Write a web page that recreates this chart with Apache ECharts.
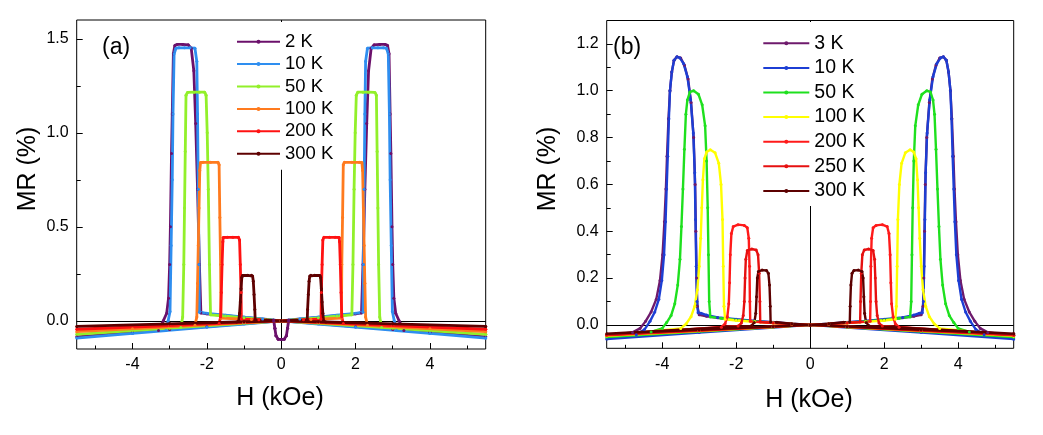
<!DOCTYPE html>
<html><head><meta charset="utf-8">
<script src="https://cdn.jsdelivr.net/npm/echarts@6/dist/echarts.min.js"></script>
<style>html,body{margin:0;padding:0;background:#fff}#c{width:1043px;height:435px}</style>
</head><body><div id="c"></div>
<script>
const FONT = '"Liberation Sans", Arial, sans-serif';
// tick labels
const xTicks = [-4, -2, 0, 2, 4];
const xMinor = [-5, -3, -1, 1, 3, 5];
const aYTicks = [0, 0.5, 1.0, 1.5];
const aYMinor = [0.25, 0.75, 1.25];
const bYTicks = [0, 0.2, 0.4, 0.6, 0.8, 1.0, 1.2];
const bYMinor = [0.1, 0.3, 0.5, 0.7, 0.9, 1.1];

// Panel (a): [H (kOe), MR (%)]
const aNames = ['2 K', '10 K', '50 K', '100 K', '200 K', '300 K'];
const a2K = [
[5.5,-0.085],[4,-0.062],[3,-0.046],[2,-0.031],[1,-0.015],[0.2,-0.003],
[0.17,-0.04],[0.14,-0.08],[0.08,-0.098],[0,-0.1],[-0.08,-0.098],[-0.14,-0.08],[-0.17,-0.04],[-0.2,0.004],
[-1,0.018],[-2,0.037],[-2.16,0.042],
[-2.2,0.3],[-2.25,0.7],[-2.3,1.05],[-2.35,1.33],[-2.42,1.45],[-2.5,1.468],
[-2.65,1.47],[-2.8,1.47],[-2.86,1.465],
[-2.9,1.42],[-2.93,1.1],[-2.95,0.89],[-2.98,0.5],[-3.0,0.3],[-3.03,0.12],[-3.08,0.04],[-3.17,0],[-3.3,-0.051],
[-4,-0.062],[-5.5,-0.085],
[-4,-0.062],[-3,-0.046],[-2,-0.031],[-1,-0.015],[-0.2,-0.003],
[-0.17,-0.04],[-0.14,-0.08],[-0.08,-0.098],[0,-0.1],[0.08,-0.098],[0.14,-0.08],[0.17,-0.04],[0.2,0.004],
[1,0.018],[2,0.037],[2.16,0.042],
[2.2,0.3],[2.25,0.7],[2.3,1.05],[2.35,1.33],[2.42,1.45],[2.5,1.468],
[2.65,1.47],[2.8,1.47],[2.86,1.465],
[2.9,1.42],[2.93,1.1],[2.95,0.89],[2.98,0.5],[3.0,0.3],[3.03,0.12],[3.08,0.04],[3.17,0],[3.3,-0.051],
[4,-0.062],[5.5,-0.085]
];
const a10K = [
[5.5,-0.092],[4,-0.067],[2,-0.034],[1,-0.017],[0,0],
[-0.5,0.01],[-1,0.02],[-1.5,0.03],[-2,0.04],[-2.2,0.046],
[-2.21,0.3],[-2.23,0.7],[-2.25,1.1],[-2.27,1.38],[-2.32,1.45],
[-2.45,1.452],[-2.6,1.452],[-2.75,1.452],[-2.83,1.45],
[-2.88,1.42],[-2.91,1.1],[-2.93,0.75],[-2.96,0.4],[-2.99,0.05],[-3.04,0],[-3.1,-0.052],
[-4,-0.067],[-5.5,-0.092],
[-4,-0.067],[-2,-0.034],[-1,-0.017],[0,0],
[0.5,0.01],[1,0.02],[1.5,0.03],[2,0.04],[2.2,0.046],
[2.21,0.3],[2.23,0.7],[2.25,1.1],[2.27,1.38],[2.32,1.45],
[2.45,1.452],[2.6,1.452],[2.75,1.452],[2.83,1.45],
[2.88,1.42],[2.91,1.1],[2.93,0.75],[2.96,0.4],[2.99,0.05],[3.04,0],[3.1,-0.052],
[4,-0.067],[5.5,-0.092]
];
const a50K = [
[5.5,-0.072],[3,-0.039],[1,-0.013],[0,0],
[-1,0.016],[-1.5,0.025],[-1.9,0.032],
[-1.93,0.3],[-1.96,0.7],[-1.99,1.0],[-2.02,1.2],[-2.06,1.216],
[-2.2,1.216],[-2.35,1.216],[-2.52,1.215],
[-2.56,1.2],[-2.58,0.9],[-2.6,0.6],[-2.62,0.3],[-2.65,0.02],[-2.7,-0.035],
[-4,-0.052],[-5.5,-0.072],
[-3,-0.039],[-1,-0.013],[0,0],
[1,0.016],[1.5,0.025],[1.9,0.032],
[1.93,0.3],[1.96,0.7],[1.99,1.0],[2.02,1.2],[2.06,1.216],
[2.2,1.216],[2.35,1.216],[2.52,1.215],
[2.56,1.2],[2.58,0.9],[2.6,0.6],[2.62,0.3],[2.65,0.02],[2.7,-0.035],
[4,-0.052],[5.5,-0.072]
];
const a100K = [
[5.5,-0.058],[3,-0.032],[1,-0.011],[0,0],
[-0.8,0.007],[-1.62,0.014],
[-1.63,0.3],[-1.65,0.55],[-1.67,0.83],[-1.7,0.843],
[-1.9,0.843],[-2.1,0.843],[-2.17,0.842],
[-2.19,0.8],[-2.21,0.6],[-2.23,0.4],[-2.25,0.2],[-2.27,0.02],[-2.32,-0.024],
[-4,-0.042],[-5.5,-0.058],
[-3,-0.032],[-1,-0.011],[0,0],
[0.8,0.007],[1.62,0.014],
[1.63,0.3],[1.65,0.55],[1.67,0.83],[1.7,0.843],
[1.9,0.843],[2.1,0.843],[2.17,0.842],
[2.19,0.8],[2.21,0.6],[2.23,0.4],[2.25,0.2],[2.27,0.02],[2.32,-0.024],
[4,-0.042],[5.5,-0.058]
];
const a200K = [
[5.5,-0.045],[3,-0.025],[1,-0.008],[0,0],
[-0.6,0.005],[-1.07,0.009],
[-1.08,0.15],[-1.1,0.3],[-1.12,0.43],[-1.15,0.444],
[-1.3,0.444],[-1.45,0.444],[-1.56,0.443],
[-1.57,0.42],[-1.59,0.3],[-1.61,0.15],[-1.63,0.02],[-1.67,-0.014],
[-3,-0.025],[-5.5,-0.045],
[-3,-0.025],[-1,-0.008],[0,0],
[0.6,0.005],[1.07,0.009],
[1.08,0.15],[1.1,0.3],[1.12,0.43],[1.15,0.444],
[1.3,0.444],[1.45,0.444],[1.56,0.443],
[1.57,0.42],[1.59,0.3],[1.61,0.15],[1.63,0.02],[1.67,-0.014],
[3,-0.025],[5.5,-0.045]
];
const a300K = [
[5.5,-0.03],[3,-0.016],[1,-0.005],[0,0],
[-0.4,0.003],[-0.7,0.005],
[-0.71,0.06],[-0.73,0.14],[-0.75,0.21],[-0.77,0.238],[-0.8,0.242],
[-0.9,0.242],[-1.04,0.241],
[-1.06,0.23],[-1.08,0.17],[-1.1,0.1],[-1.12,0.04],[-1.14,0.0],[-1.2,-0.007],
[-3,-0.016],[-5.5,-0.03],
[-3,-0.016],[-1,-0.005],[0,0],
[0.4,0.003],[0.7,0.005],
[0.71,0.06],[0.73,0.14],[0.75,0.21],[0.77,0.238],[0.8,0.242],
[0.9,0.242],[1.04,0.241],
[1.06,0.23],[1.08,0.17],[1.1,0.1],[1.12,0.04],[1.14,0.0],[1.2,-0.007],
[3,-0.016],[5.5,-0.03]
];

// Panel (b): [H (kOe), MR (%)]
const bNames = ['3 K', '10 K', '50 K', '100 K', '200 K', '250 K', '300 K'];
const b3K = [
[5.5,-0.045],[3,-0.025],[1,-0.008],[0,0],
[-0.5,0.004],[-1,0.01],[-1.5,0.016],[-2,0.022],[-2.5,0.03],[-2.8,0.037],[-3.0,0.043],
[-3.05,0.08],[-3.07,0.2],[-3.09,0.4],[-3.11,0.6],[-3.15,0.8],[-3.22,0.95],[-3.3,1.05],[-3.4,1.11],[-3.5,1.14],[-3.6,1.145],[-3.68,1.13],
[-3.74,1.08],[-3.79,1.0],[-3.83,0.88],[-3.87,0.72],[-3.9,0.58],[-3.94,0.44],[-3.99,0.3],[-4.06,0.19],[-4.16,0.11],[-4.3,0.055],[-4.45,0.015],[-4.6,-0.015],[-4.8,-0.032],[-5.5,-0.045],
[-3,-0.025],[-1,-0.008],[0,0],
[0.5,0.004],[1,0.01],[1.5,0.016],[2,0.022],[2.5,0.03],[2.8,0.037],[3.0,0.043],
[3.05,0.08],[3.07,0.2],[3.09,0.4],[3.11,0.6],[3.15,0.8],[3.22,0.95],[3.3,1.05],[3.4,1.11],[3.5,1.14],[3.6,1.145],[3.68,1.13],
[3.74,1.08],[3.79,1.0],[3.83,0.88],[3.87,0.72],[3.9,0.58],[3.94,0.44],[3.99,0.3],[4.06,0.19],[4.16,0.11],[4.3,0.055],[4.45,0.015],[4.6,-0.015],[4.8,-0.032],[5.5,-0.045]
];
const b10K = [
[5.5,-0.06],[3,-0.033],[1,-0.011],[0,0],
[-0.5,0.005],[-1,0.011],[-1.5,0.017],[-2,0.024],[-2.5,0.032],[-2.8,0.042],[-2.95,0.05],[-3.03,0.052],
[-3.06,0.1],[-3.08,0.25],[-3.1,0.45],[-3.12,0.65],[-3.16,0.82],[-3.23,0.96],[-3.32,1.06],[-3.42,1.115],[-3.52,1.14],[-3.6,1.145],[-3.68,1.13],
[-3.74,1.08],[-3.79,1.0],[-3.82,0.88],[-3.85,0.72],[-3.88,0.58],[-3.91,0.44],[-3.95,0.3],[-4.01,0.19],[-4.09,0.11],[-4.2,0.055],[-4.33,0.015],[-4.48,-0.02],[-4.7,-0.042],[-5.5,-0.06],
[-3,-0.033],[-1,-0.011],[0,0],
[0.5,0.005],[1,0.011],[1.5,0.017],[2,0.024],[2.5,0.032],[2.8,0.042],[2.95,0.05],[3.03,0.052],
[3.06,0.1],[3.08,0.25],[3.1,0.45],[3.12,0.65],[3.16,0.82],[3.23,0.96],[3.32,1.06],[3.42,1.115],[3.52,1.14],[3.6,1.145],[3.68,1.13],
[3.74,1.08],[3.79,1.0],[3.82,0.88],[3.85,0.72],[3.88,0.58],[3.91,0.44],[3.95,0.3],[4.01,0.19],[4.09,0.11],[4.2,0.055],[4.33,0.015],[4.48,-0.02],[4.7,-0.042],[5.5,-0.06]
];
const b50K = [
[5.5,-0.052],[3,-0.028],[1,-0.009],[0,0],
[-0.5,0.004],[-1,0.009],[-1.5,0.015],[-2,0.021],[-2.4,0.028],[-2.7,0.034],
[-2.73,0.1],[-2.75,0.3],[-2.77,0.5],[-2.8,0.7],[-2.84,0.85],[-2.92,0.94],[-3.02,0.985],[-3.15,1.0],[-3.25,0.995],[-3.32,0.96],
[-3.36,0.9],[-3.4,0.75],[-3.44,0.58],[-3.48,0.42],[-3.52,0.28],[-3.58,0.17],[-3.66,0.09],[-3.76,0.04],[-3.88,0.01],[-4.0,-0.015],[-4.3,-0.03],[-5.5,-0.052],
[-3,-0.028],[-1,-0.009],[0,0],
[0.5,0.004],[1,0.009],[1.5,0.015],[2,0.021],[2.4,0.028],[2.7,0.034],
[2.73,0.1],[2.75,0.3],[2.77,0.5],[2.8,0.7],[2.84,0.85],[2.92,0.94],[3.02,0.985],[3.15,1.0],[3.25,0.995],[3.32,0.96],
[3.36,0.9],[3.4,0.75],[3.44,0.58],[3.48,0.42],[3.52,0.28],[3.58,0.17],[3.66,0.09],[3.76,0.04],[3.88,0.01],[4.0,-0.015],[4.3,-0.03],[5.5,-0.052]
];
const b100K = [
[5.5,-0.047],[3,-0.026],[1,-0.009],[0,0],
[-0.5,0.004],[-1,0.008],[-1.5,0.013],[-2,0.019],[-2.3,0.024],
[-2.33,0.08],[-2.35,0.25],[-2.37,0.45],[-2.41,0.6],[-2.47,0.69],[-2.57,0.735],[-2.7,0.748],[-2.8,0.738],
[-2.86,0.71],[-2.9,0.62],[-2.93,0.5],[-2.96,0.37],[-3.0,0.25],[-3.05,0.15],[-3.12,0.08],[-3.22,0.035],[-3.35,0.005],[-3.5,-0.015],[-5.5,-0.047],
[-3,-0.026],[-1,-0.009],[0,0],
[0.5,0.004],[1,0.008],[1.5,0.013],[2,0.019],[2.3,0.024],
[2.33,0.08],[2.35,0.25],[2.37,0.45],[2.41,0.6],[2.47,0.69],[2.57,0.735],[2.7,0.748],[2.8,0.738],
[2.86,0.71],[2.9,0.62],[2.93,0.5],[2.96,0.37],[3.0,0.25],[3.05,0.15],[3.12,0.08],[3.22,0.035],[3.35,0.005],[3.5,-0.015],[5.5,-0.047]
];
const b200K = [
[5.5,-0.045],[3,-0.025],[1,-0.008],[0,0],
[-0.5,0.004],[-1,0.008],[-1.62,0.015],
[-1.63,0.1],[-1.64,0.25],[-1.66,0.37],[-1.7,0.415],[-1.78,0.425],[-1.95,0.428],[-2.08,0.42],
[-2.13,0.39],[-2.16,0.3],[-2.18,0.18],[-2.2,0.09],[-2.24,0.035],[-2.3,0.005],[-2.4,-0.01],[-5.5,-0.045],
[-3,-0.025],[-1,-0.008],[0,0],
[0.5,0.004],[1,0.008],[1.62,0.015],
[1.63,0.1],[1.64,0.25],[1.66,0.37],[1.7,0.415],[1.78,0.425],[1.95,0.428],[2.08,0.42],
[2.13,0.39],[2.16,0.3],[2.18,0.18],[2.2,0.09],[2.24,0.035],[2.3,0.005],[2.4,-0.01],[5.5,-0.045]
];
const b250K = [
[5.5,-0.042],[3,-0.023],[1,-0.008],[0,0],
[-0.5,0.004],[-1,0.009],[-1.35,0.012],
[-1.36,0.1],[-1.38,0.22],[-1.41,0.3],[-1.46,0.32],[-1.58,0.324],[-1.7,0.318],
[-1.74,0.28],[-1.76,0.2],[-1.78,0.1],[-1.81,0.04],[-1.86,0.008],[-1.95,-0.005],[-5.5,-0.042],
[-3,-0.023],[-1,-0.008],[0,0],
[0.5,0.004],[1,0.009],[1.35,0.012],
[1.36,0.1],[1.38,0.22],[1.41,0.3],[1.46,0.32],[1.58,0.324],[1.7,0.318],
[1.74,0.28],[1.76,0.2],[1.78,0.1],[1.81,0.04],[1.86,0.008],[1.95,-0.005],[5.5,-0.042]
];
const b300K = [
[5.5,-0.038],[3,-0.021],[1,-0.007],[0,0],
[-0.5,0.005],[-0.9,0.011],[-1.07,0.012],
[-1.08,0.08],[-1.1,0.17],[-1.13,0.22],[-1.18,0.232],[-1.3,0.234],[-1.4,0.228],
[-1.43,0.2],[-1.45,0.12],[-1.47,0.05],[-1.51,0.01],[-1.6,-0.005],[-5.5,-0.038],
[-3,-0.021],[-1,-0.007],[0,0],
[0.5,0.005],[0.9,0.011],[1.07,0.012],
[1.08,0.08],[1.1,0.17],[1.13,0.22],[1.18,0.232],[1.3,0.234],[1.4,0.228],
[1.43,0.2],[1.45,0.12],[1.47,0.05],[1.51,0.01],[1.6,-0.005],[5.5,-0.038]
];

const aData = [a2K, a10K, a50K, a100K, a200K, a300K];
const aColors = ['#6B106B', '#2E8EF0', '#92F02A', '#FF7A1E', '#FF1212', '#5E0000'];
const bData = [b3K, b10K, b50K, b100K, b200K, b250K, b300K];
const bColors = ['#6E1A6C', '#1C3ED4', '#1EE01E', '#FFFF00', '#FF1A1A', '#E61010', '#5C0000'];

const zeroLines = {
  silent: true, symbol: ['none', 'none'], z: 3,
  label: { show: false },
  lineStyle: { color: '#000', width: 1, type: 'solid' },
  emphasis: { disabled: true },
  data: [{ yAxis: 0 }, { xAxis: 0 }]
};

function mkSeries(prefix, names, datas, colors, idx, lw) {
  return names.map((n, i) => ({
    name: prefix + n, type: 'line', xAxisIndex: idx, yAxisIndex: idx,
    data: datas[i], symbol: 'circle', symbolSize: 3, showSymbol: true,
    lineStyle: { color: colors[i], width: lw },
    itemStyle: { color: colors[i] },
    emphasis: { disabled: true },
    markLine: i === 0 ? zeroLines : undefined
  }));
}

function xAx(grid, ticks, len, labels) {
  return {
    type: 'value', gridIndex: grid, min: -5.5, max: 5.5, position: 'bottom',
    axisLine: { show: false, onZero: false }, splitLine: { show: false },
    axisTick: { show: true, inside: true, length: len, customValues: ticks, lineStyle: { color: '#000', width: 1 } },
    axisLabel: labels ? { show: true, customValues: ticks, color: '#000', fontSize: 16, fontFamily: FONT, margin: 8, formatter: v => String(v) } : { show: false }
  };
}
function yAx(grid, min, max, ticks, len, labels) {
  return {
    type: 'value', gridIndex: grid, min: min, max: max, position: 'left',
    axisLine: { show: false, onZero: false }, splitLine: { show: false },
    axisTick: { show: true, inside: true, length: len, customValues: ticks, lineStyle: { color: '#000', width: 1 } },
    axisLabel: labels ? { show: true, customValues: ticks, color: '#000', fontSize: 16, fontFamily: FONT, margin: 8, formatter: v => v.toFixed(1) } : { show: false }
  };
}

const chart = echarts.init(document.getElementById('c'), null, { renderer: 'canvas' });
chart.setOption({
  animation: false,
  backgroundColor: '#fff',
  grid: [
    { left: 76.7, top: 20, width: 409, height: 329, show: true, borderColor: '#000', borderWidth: 1, backgroundColor: 'transparent' },
    { left: 606.7, top: 20.5, width: 407, height: 327.8, show: true, borderColor: '#000', borderWidth: 1, backgroundColor: 'transparent' }
  ],
  xAxis: [
    xAx(0, xTicks, 6, true), xAx(1, xTicks, 6, true),
    xAx(0, xMinor, 3.5, false), xAx(1, xMinor, 3.5, false)
  ],
  yAxis: [
    yAx(0, -0.15, 1.6, aYTicks, 6, true), yAx(1, -0.1, 1.3, bYTicks, 6, true),
    yAx(0, -0.15, 1.6, aYMinor, 4, false), yAx(1, -0.1, 1.3, bYMinor, 4, false)
  ],
  legend: [
    {
      data: aNames.map(n => 'a:' + n), formatter: n => n.slice(2),
      orient: 'vertical', left: 234, top: 22, itemWidth: 43, itemHeight: 5, itemGap: 2.4,
      padding: [9.7, 4, 6, 2], backgroundColor: '#fff', z: 10, selectedMode: false,
      textStyle: { fontSize: 18.5, fontFamily: FONT, color: '#000', lineHeight: 20 }
    },
    {
      data: bNames.map(n => 'b:' + n), formatter: n => n.slice(2),
      orient: 'vertical', left: 760.3, top: 22, itemWidth: 46, itemHeight: 5, itemGap: 4.6,
      padding: [11.3, 4, 5, 2], backgroundColor: '#fff', z: 10, selectedMode: false,
      textStyle: { fontSize: 19.5, fontFamily: FONT, color: '#000', lineHeight: 20 }
    }
  ],
  graphic: [
    { type: 'text', x: 102, y: 48, style: { text: '(a)', font: '23px ' + FONT, fill: '#000', textAlign: 'left', textVerticalAlign: 'middle' }, z: 20 },
    { type: 'text', x: 613, y: 47.5, style: { text: '(b)', font: '23px ' + FONT, fill: '#000', textAlign: 'left', textVerticalAlign: 'middle' }, z: 20 },
    { type: 'text', x: 28, y: 169, rotation: Math.PI / 2, style: { text: 'MR (%)', font: '25px ' + FONT, fill: '#000', textAlign: 'center', textVerticalAlign: 'middle' } },
    { type: 'text', x: 548, y: 169, rotation: Math.PI / 2, style: { text: 'MR (%)', font: '25px ' + FONT, fill: '#000', textAlign: 'center', textVerticalAlign: 'middle' } },
    { type: 'text', x: 280, y: 398, style: { text: 'H (kOe)', font: '25px ' + FONT, fill: '#000', textAlign: 'center', textVerticalAlign: 'middle' } },
    { type: 'text', x: 809, y: 400, style: { text: 'H (kOe)', font: '25px ' + FONT, fill: '#000', textAlign: 'center', textVerticalAlign: 'middle' } }
  ],
  series: [].concat(
    mkSeries('a:', aNames, aData, aColors, 0, 2.8),
    mkSeries('b:', bNames, bData, bColors, 1, 2.4)
  )
});
</script>
</body></html>
